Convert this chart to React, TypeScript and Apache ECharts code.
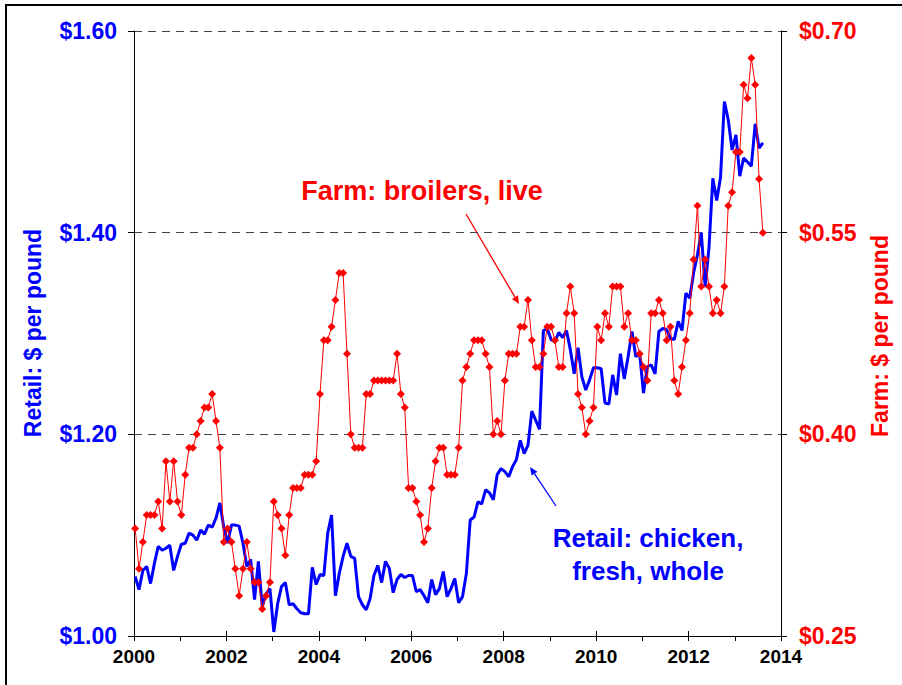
import React, { useEffect, useRef } from "react";
import * as echarts from "echarts";

// Monthly series, Jan 2000 .. Aug 2013
const START_YEAR = 2000;

const retailChicken: number[] = [
  1.059, 1.046, 1.065, 1.069, 1.052, 1.072, 1.089, 1.085, 1.087, 1.090, 1.065, 1.079,
  1.091, 1.092, 1.102, 1.100, 1.095, 1.105, 1.101, 1.110, 1.108, 1.117, 1.132, 1.108,
  1.092, 1.110, 1.110, 1.109, 1.092, 1.069, 1.076, 1.036, 1.074, 1.029, 1.042, 1.047,
  1.004, 1.032, 1.049, 1.053, 1.031, 1.032, 1.027, 1.023, 1.022, 1.022, 1.068, 1.051,
  1.061, 1.060, 1.102, 1.120, 1.040, 1.062, 1.079, 1.092, 1.079, 1.077, 1.039, 1.031,
  1.026, 1.037, 1.060, 1.070, 1.053, 1.074, 1.067, 1.043, 1.056, 1.061, 1.058, 1.060,
  1.060, 1.044, 1.046, 1.040, 1.033, 1.056, 1.041, 1.047, 1.064, 1.039, 1.047, 1.057,
  1.033, 1.039, 1.062, 1.115, 1.118, 1.133, 1.131, 1.145, 1.142, 1.135, 1.160, 1.166,
  1.163, 1.158, 1.168, 1.175, 1.194, 1.181, 1.189, 1.223, 1.214, 1.205, 1.303, 1.305,
  1.294, 1.292, 1.301, 1.296, 1.303, 1.284, 1.260, 1.286, 1.257, 1.244, 1.254, 1.266,
  1.266, 1.265, 1.231, 1.230, 1.259, 1.239, 1.280, 1.255, 1.277, 1.302, 1.277, 1.280,
  1.241, 1.267, 1.269, 1.260, 1.302, 1.305, 1.304, 1.295, 1.294, 1.312, 1.303, 1.340,
  1.335, 1.360, 1.378, 1.400, 1.346, 1.385, 1.454, 1.432, 1.455, 1.530, 1.512, 1.482,
  1.497, 1.456, 1.474, 1.470, 1.466, 1.508, 1.484, 1.489,
];

const farmBroilers: number[] = [
  0.33, 0.30, 0.32, 0.34, 0.34, 0.34, 0.35, 0.33, 0.38, 0.35, 0.38, 0.35,
  0.34, 0.37, 0.39, 0.39, 0.40, 0.41, 0.42, 0.42, 0.43, 0.41, 0.39, 0.32,
  0.33, 0.32, 0.30, 0.28, 0.30, 0.32, 0.30, 0.29, 0.29, 0.27, 0.28, 0.29,
  0.35, 0.34, 0.33, 0.31, 0.34, 0.36, 0.36, 0.36, 0.37, 0.37, 0.37, 0.38,
  0.43, 0.47, 0.47, 0.48, 0.50, 0.52, 0.52, 0.46, 0.40, 0.39, 0.39, 0.39,
  0.43, 0.43, 0.44, 0.44, 0.44, 0.44, 0.44, 0.44, 0.46, 0.43, 0.42, 0.36,
  0.36, 0.35, 0.34, 0.32, 0.33, 0.36, 0.38, 0.39, 0.39, 0.37, 0.37, 0.37,
  0.39, 0.44, 0.45, 0.46, 0.47, 0.47, 0.47, 0.46, 0.45, 0.40, 0.41, 0.40,
  0.44, 0.46, 0.46, 0.46, 0.48, 0.48, 0.50, 0.47, 0.45, 0.45, 0.46, 0.48,
  0.48, 0.47, 0.45, 0.45, 0.49, 0.51, 0.49, 0.43, 0.42, 0.40, 0.41, 0.42,
  0.48, 0.47, 0.49, 0.48, 0.51, 0.51, 0.51, 0.48, 0.49, 0.47, 0.47, 0.46,
  0.45, 0.44, 0.49, 0.49, 0.50, 0.49, 0.47, 0.48, 0.44, 0.43, 0.45, 0.47,
  0.49, 0.53, 0.57, 0.51, 0.53, 0.51, 0.49, 0.50, 0.49, 0.51, 0.57, 0.58,
  0.61, 0.61, 0.66, 0.65, 0.68, 0.66, 0.59, 0.55,
];

const leftTicks = [1.0, 1.2, 1.4, 1.6];
const rightTicks = [0.25, 0.4, 0.55, 0.7];
const yearLabels = [2000, 2002, 2004, 2006, 2008, 2010, 2012, 2014];

const monthX = (i: number) => START_YEAR + (i + 0.3) / 12;

const FONT = "Liberation Sans, Arial, Helvetica, sans-serif";
const BLUE = "#0000FF";
const RED = "#FF0000";

function arrow(x1: number, y1: number, x2: number, y2: number, color: string) {
  const dx = x2 - x1;
  const dy = y2 - y1;
  const len = Math.sqrt(dx * dx + dy * dy);
  const ux = dx / len;
  const uy = dy / len;
  const hl = 8;
  const hw = 3.5;
  const bx = x2 - ux * hl;
  const by = y2 - uy * hl;
  return {
    type: "group",
    children: [
      {
        type: "line",
        shape: { x1, y1, x2: bx, y2: by },
        style: { stroke: color, lineWidth: 1.3 },
      },
      {
        type: "polygon",
        shape: {
          points: [
            [x2, y2],
            [bx - uy * hw, by + ux * hw],
            [bx + uy * hw, by - ux * hw],
          ],
        },
        style: { fill: color },
      },
    ],
  };
}

export default function App() {
  const ref = useRef<HTMLDivElement>(null);

  useEffect(() => {
    if (!ref.current) return;
    const chart = echarts.init(ref.current, undefined, { renderer: "svg" });

    const retailData = retailChicken.map((v, i) => [monthX(i), v]);
    const farmData = farmBroilers.map((v, i) => [monthX(i), v]);

    const option: any = {
      animation: false,
      backgroundColor: "#ffffff",
      grid: { left: 134, right: 121, top: 31, bottom: 49, containLabel: false },
      xAxis: [
        {
          type: "value",
          min: 2000,
          max: 2014,
          interval: 1,
          position: "bottom",
          axisLine: { show: true, onZero: false, lineStyle: { color: "#000", width: 1 } },
          axisTick: { show: true, length: 5, lineStyle: { color: "#000" } },
          axisLabel: {
            show: true,
            margin: 11,
            color: "#000",
            fontFamily: FONT,
            fontWeight: "bold",
            fontSize: 19,
            formatter: (v: number) => (yearLabels.indexOf(Math.round(v)) >= 0 ? String(Math.round(v)) : ""),
          },
          splitLine: { show: false },
        },
        {
          type: "value",
          min: 2000,
          max: 2014,
          interval: 2,
          position: "bottom",
          axisLine: { show: false, onZero: false },
          axisTick: { show: true, inside: true, length: 5, lineStyle: { color: "#000" } },
          axisLabel: { show: false },
          splitLine: { show: false },
        },
      ],
      yAxis: [
        {
          type: "value",
          min: 1.0,
          max: 1.6,
          interval: 0.2,
          position: "left",
          axisLine: { show: true, lineStyle: { color: "#000", width: 1 } },
          axisTick: { show: true, length: 6, lineStyle: { color: "#000" } },
          axisLabel: {
            margin: 17,
            color: BLUE,
            fontFamily: FONT,
            fontWeight: "bold",
            fontSize: 23,
            customValues: leftTicks,
            formatter: (v: number) => "$" + v.toFixed(2),
          },
          splitLine: { show: true, lineStyle: { color: "#444", width: 1, type: [8, 6] } },
        },
        {
          type: "value",
          min: 0.25,
          max: 0.7,
          position: "right",
          axisLine: { show: true, lineStyle: { color: "#000", width: 1 } },
          axisTick: { show: true, length: 6, customValues: rightTicks, lineStyle: { color: "#000" } },
          axisLabel: {
            margin: 18,
            color: RED,
            fontFamily: FONT,
            fontWeight: "bold",
            fontSize: 23,
            customValues: rightTicks,
            formatter: (v: number) => "$" + v.toFixed(2),
          },
          splitLine: { show: false },
        },
      ],
      series: [
        {
          name: "Retail: chicken, fresh, whole",
          type: "line",
          xAxisIndex: 0,
          yAxisIndex: 0,
          data: retailData,
          showSymbol: false,
          symbol: "none",
          lineStyle: { color: BLUE, width: 3 },
          itemStyle: { color: BLUE },
          z: 2,
        },
        {
          name: "Farm: broilers, live",
          type: "line",
          xAxisIndex: 0,
          yAxisIndex: 1,
          data: farmData,
          symbol: "diamond",
          symbolSize: 8,
          showSymbol: true,
          lineStyle: { color: RED, width: 1 },
          itemStyle: { color: RED },
          z: 3,
        },
      ],
      graphic: [
        {
          type: "rect",
          shape: { x: 6, y: 5, width: 1200, height: 1200 },
          style: { fill: "none", stroke: "#000", lineWidth: 2 },
          silent: true,
        },
        {
          type: "text",
          x: 33,
          y: 333,
          rotation: Math.PI / 2,
          style: {
            text: "Retail: $ per pound",
            fill: BLUE,
            font: `bold 23px ${FONT}`,
            align: "center",
            verticalAlign: "middle",
          },
        },
        {
          type: "text",
          x: 880,
          y: 336,
          rotation: Math.PI / 2,
          style: {
            text: "Farm: $ per pound",
            fill: RED,
            font: `bold 23px ${FONT}`,
            align: "center",
            verticalAlign: "middle",
          },
        },
        {
          type: "text",
          x: 422,
          y: 191,
          style: {
            text: "Farm: broilers, live",
            fill: RED,
            font: `bold 27px ${FONT}`,
            align: "center",
            verticalAlign: "middle",
          },
        },
        {
          type: "text",
          x: 648,
          y: 538,
          style: {
            text: "Retail: chicken,",
            fill: BLUE,
            font: `bold 26px ${FONT}`,
            align: "center",
            verticalAlign: "middle",
          },
        },
        {
          type: "text",
          x: 648,
          y: 571,
          style: {
            text: "fresh, whole",
            fill: BLUE,
            font: `bold 26px ${FONT}`,
            align: "center",
            verticalAlign: "middle",
          },
        },
        arrow(466, 214, 519, 304, RED),
        arrow(556, 506, 530, 467, BLUE),
      ],
    };

    chart.setOption(option);
    return () => {
      chart.dispose();
    };
  }, []);

  return (
    <div
      ref={ref}
      style={{ position: "fixed", left: 0, top: 0, width: 902, height: 685, background: "#fff" }}
    />
  );
}
